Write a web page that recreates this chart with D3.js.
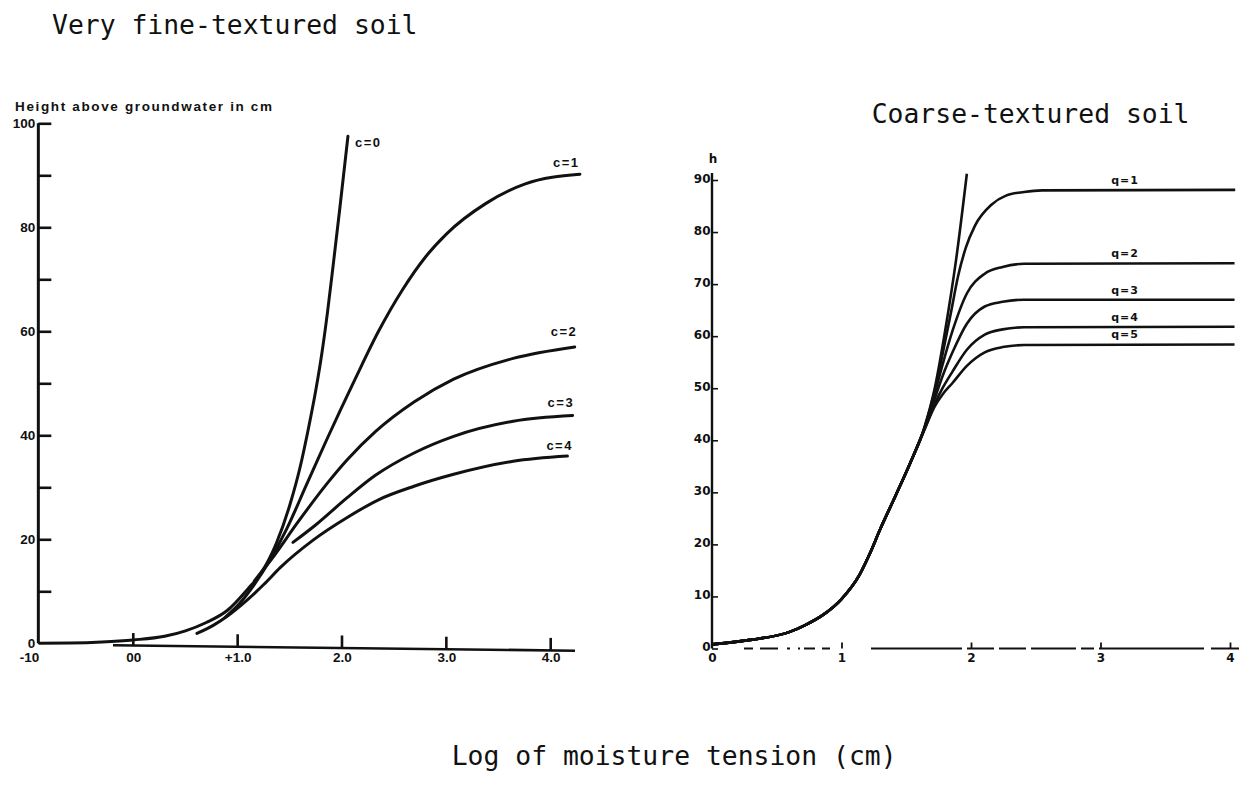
<!DOCTYPE html>
<html>
<head>
<meta charset="utf-8">
<script src="https://cdn.jsdelivr.net/npm/d3@7"></script>
<style>
  body { margin: 0; background: #fff; }
  svg { display: block; }
  .title { font-family: "DejaVu Sans Mono", monospace; font-size: 26.4px; fill: #111; }
</style>
</head>
<body>
<svg id="chart" width="1239" height="785"></svg>
<script>
// Very fine-textured soil : log tension -> height above groundwater (cm)
const fineC0X = [-0.9, -0.6, -0.3, 0, 0.3, 0.5, 0.7, 0.9, 1.1, 1.22, 1.37, 1.5, 1.6, 1.67, 1.75, 1.805, 1.86, 1.92, 1.98, 2.057];
const fineC0H = [0, 0.05, 0.25, 0.65, 1.35, 2.4, 4.0, 6.3, 10.5, 13.4, 19.2, 26.6, 34.0, 40.5, 48.8, 55.5, 63.5, 73.5, 83.8, 97.5];
const fineC1X = [0.88, 1.02, 1.17, 1.31, 1.47, 1.66, 1.85, 2.13, 2.35, 2.58, 2.8, 3.0, 3.38, 3.75, 4.28];
const fineC1H = [5.0, 7.7, 11.6, 16.0, 22.0, 30.5, 39.0, 51.0, 60.0, 68.0, 74.3, 78.7, 84.6, 88.3, 90.2];
const fineC2X = [1.16, 1.34, 1.57, 1.86, 2.05, 2.32, 2.69, 3.07, 3.64, 4.23];
const fineC2H = [12.0, 16.6, 23.1, 30.8, 35.3, 40.7, 46.4, 50.8, 54.8, 57.0];
const fineC3X = [1.53, 1.75, 2.05, 2.32, 2.69, 3.07, 3.64, 4.21];
const fineC3H = [19.4, 22.8, 28.0, 32.3, 36.6, 39.8, 42.7, 43.8];
const fineC4X = [0.61, 0.77, 0.9, 1.09, 1.25, 1.41, 1.72, 2.05, 2.35, 2.69, 3.07, 3.64, 4.16];
const fineC4H = [1.9, 3.5, 5.2, 8.3, 11.3, 14.6, 19.8, 24.2, 27.6, 30.2, 32.5, 35.0, 36.0];
const fineNames = ["c=0", "c=1", "c=2", "c=3", "c=4"];
const fineYTicks = [0, 20, 40, 60, 80, 100];
const fineXTicks = [-1, 0, 1, 2, 3, 4];
const fineXLabels = ["-10", "00", "+1.0", "2.0", "3.0", "4.0"];

// Coarse-textured soil : shared lower part, then one branch per q
const coarseBaseX = [0, 0.31, 0.59, 0.72, 0.86, 1.0, 1.14, 1.22, 1.30, 1.42, 1.53];
const coarseBaseH = [0.8, 1.7, 3.1, 4.5, 6.5, 9.5, 14.2, 18.3, 23.0, 29.5, 35.6];
const coarseSteepX = [1.64, 1.72, 1.80, 1.885, 1.968];
const coarseSteepH = [42.5, 50, 61, 74.7, 91.2];
const coarseQ1X = [1.64, 1.72, 1.78, 1.845, 1.90, 1.96, 2.03, 2.16, 2.27, 2.41, 2.55, 4.04];
const coarseQ1H = [42.3, 49.5, 56.5, 64.5, 71.5, 77.0, 81.2, 85.3, 87.0, 87.7, 88.0, 88.1];
const coarseQX = [1.64, 1.72, 1.78, 1.857, 1.968, 2.106, 2.244, 2.41, 4.035];
const coarseQ2H = [42.3, 49.0, 54.5, 61.0, 68.2, 72.0, 73.3, 73.9, 74.0];
const coarseQ3H = [42.2, 48.0, 52.3, 56.9, 62.4, 65.7, 66.6, 67.0, 67.0];
const coarseQ4H = [42.1, 47.0, 50.0, 53.2, 57.4, 60.3, 61.3, 61.7, 61.8];
const coarseQ5H = [42.0, 46.5, 48.8, 51.0, 54.3, 56.9, 57.9, 58.3, 58.4];
const coarseNames = ["q=1", "q=2", "q=3", "q=4", "q=5"];
const coarseYTicks = [0, 10, 20, 30, 40, 50, 60, 70, 80, 90];
const coarseXTicks = [0, 1, 2, 3, 4];

const ink = "#111";
const svg = d3.select("#chart");

const zip = (xs, hs) => xs.map((x, i) => ({ x: x, h: hs[i] }));

// ---------- left panel ----------
const xF = d3.scaleLinear().domain([0, 4]).range([133.3, 550.7]);
const yF = d3.scaleLinear().domain([0, 100]).range([643.3, 123.3]);
const axisXF = xF(-0.91);

const lineF = d3.line().x(d => xF(d.x)).y(d => yF(d.h)).curve(d3.curveMonotoneX);

svg.append("text").attr("class", "title").attr("x", 52).attr("y", 33.5).text("Very fine-textured soil");

svg.append("text")
    .attr("x", 15).attr("y", 111)
    .attr("font-family", "Liberation Sans, Arial, sans-serif")
    .attr("font-weight", "bold").attr("font-size", 13.5)
    .attr("textLength", 257).attr("lengthAdjust", "spacing")
    .attr("fill", ink)
    .text("Height above groundwater in cm");

// y axis line + ticks to the right
svg.append("line")
    .attr("x1", axisXF).attr("x2", axisXF)
    .attr("y1", yF(0)).attr("y2", yF(100))
    .attr("stroke", ink).attr("stroke-width", 3);

svg.append("g")
    .attr("transform", "translate(" + axisXF + ",0)")
    .call(d3.axisRight(yF).tickValues(d3.range(10, 101, 10)).tickSize(13).tickFormat(""))
    .call(g => g.select(".domain").remove())
    .selectAll("line").attr("stroke", ink).attr("stroke-width", 2.6);

svg.append("g")
    .attr("transform", "translate(" + (axisXF - 1) + ",0)")
    .call(d3.axisLeft(yF).tickValues(fineYTicks).tickSize(0).tickPadding(2))
    .call(g => g.select(".domain").remove())
    .attr("font-family", "Liberation Sans, Arial, sans-serif")
    .attr("font-size", 13.5).attr("font-weight", "bold")
    .selectAll("text").attr("fill", ink);

// lower x baseline (slightly skewed in the scan)
const baseY = px => 645.3 + (px - 113) * 0.0117;
svg.append("line")
    .attr("x1", 113).attr("y1", baseY(113))
    .attr("x2", 575).attr("y2", baseY(575))
    .attr("stroke", ink).attr("stroke-width", 2.6);

svg.selectAll(".ftick").data([0, 1, 2, 3, 4]).enter().append("line")
    .attr("x1", d => xF(d)).attr("x2", d => xF(d))
    .attr("y1", d => baseY(xF(d))).attr("y2", d => baseY(xF(d)) - 12.5)
    .attr("stroke", ink).attr("stroke-width", 2.6);

svg.append("g")
    .attr("transform", "translate(0,646)")
    .call(d3.axisBottom(xF).tickValues(fineXTicks).tickSize(0).tickPadding(6.4)
        .tickFormat((d, i) => fineXLabels[i]))
    .call(g => g.select(".domain").remove())
    .attr("font-family", "Liberation Sans, Arial, sans-serif")
    .attr("font-size", 13.5).attr("font-weight", "bold")
    .selectAll("text").attr("fill", ink);

// curves
const fineSeries = [zip(fineC0X, fineC0H), zip(fineC1X, fineC1H), zip(fineC2X, fineC2H),
                    zip(fineC3X, fineC3H), zip(fineC4X, fineC4H)];
svg.append("g").selectAll("path").data(fineSeries).enter().append("path")
    .attr("d", lineF)
    .attr("fill", "none").attr("stroke", ink).attr("stroke-width", 3)
    .attr("stroke-linecap", "round");

// labels placed relative to each curve's last point
const fineLabelOffsets = [[7, 11], [-27, -7], [-24, -11], [-25, -9], [-21, -6]];
svg.append("g").selectAll("text").data(fineSeries).enter().append("text")
    .attr("x", (d, i) => xF(d[d.length - 1].x) + fineLabelOffsets[i][0])
    .attr("y", (d, i) => yF(d[d.length - 1].h) + fineLabelOffsets[i][1])
    .attr("font-family", "Liberation Sans, Arial, sans-serif")
    .attr("font-weight", "bold").attr("font-size", 13)
    .attr("letter-spacing", 1.5).attr("fill", ink)
    .text((d, i) => fineNames[i]);

// ---------- right panel ----------
const xC = d3.scaleLinear().domain([0, 4]).range([712, 1230]);
const yC = d3.scaleLinear().domain([0, 90]).range([648.5, 180]);

const lineC = d3.line().x(d => xC(d.x)).y(d => yC(d.h)).curve(d3.curveMonotoneX);

svg.append("text").attr("class", "title").attr("x", 871.7).attr("y", 123.3).text("Coarse-textured soil");

svg.append("text")
    .attr("x", xC(0) + 1).attr("y", 163)
    .attr("text-anchor", "middle")
    .attr("font-family", "DejaVu Sans, sans-serif")
    .attr("font-weight", "bold").attr("font-size", 12).attr("fill", ink)
    .text("h");

svg.append("line")
    .attr("x1", xC(0)).attr("x2", xC(0))
    .attr("y1", yC(0)).attr("y2", 173)
    .attr("stroke", ink).attr("stroke-width", 2.4);

svg.append("g")
    .attr("transform", "translate(" + xC(0) + ",0)")
    .call(d3.axisRight(yC).tickValues(coarseYTicks).tickSize(6).tickFormat(""))
    .call(g => g.select(".domain").remove())
    .selectAll("line").attr("stroke", ink).attr("stroke-width", 1.6);

svg.append("g")
    .attr("transform", "translate(" + xC(0) + ",-1.5)")
    .call(d3.axisLeft(yC).tickValues(coarseYTicks).tickSize(0).tickPadding(1.5))
    .call(g => g.select(".domain").remove())
    .attr("font-family", "DejaVu Sans, sans-serif")
    .attr("font-size", 12).attr("font-weight", "bold")
    .selectAll("text").attr("fill", ink);

// broken dash-dot baseline as in the scan
svg.append("line")
    .attr("x1", 744).attr("x2", 830).attr("y1", yC(0)).attr("y2", yC(0))
    .attr("stroke", ink).attr("stroke-width", 1.8)
    .attr("stroke-dasharray", "9 7 18 9 3 8 2 4 11 7 9 40");
svg.append("line")
    .attr("x1", 871).attr("x2", 1239).attr("y1", yC(0)).attr("y2", yC(0))
    .attr("stroke", ink).attr("stroke-width", 1.8)
    .attr("stroke-dasharray", "91 5 27 5 27 5 45 5 13 5 105 7 40");

svg.append("g")
    .attr("transform", "translate(0," + yC(0) + ")")
    .call(d3.axisTop(xC).tickValues([1, 2, 3, 4]).tickSize(6).tickFormat(""))
    .call(g => g.select(".domain").remove())
    .selectAll("line").attr("stroke", ink).attr("stroke-width", 1.8);

svg.append("g")
    .attr("transform", "translate(0," + (yC(0) + 1) + ")")
    .call(d3.axisBottom(xC).tickValues(coarseXTicks).tickSize(0).tickPadding(3.5)
        .tickFormat(d3.format("d")))
    .call(g => g.select(".domain").remove())
    .attr("font-family", "DejaVu Sans, sans-serif")
    .attr("font-size", 12).attr("font-weight", "bold")
    .selectAll("text").attr("fill", ink);

const coarseBase = zip(coarseBaseX, coarseBaseH);
const coarseSteep = coarseBase.concat(zip(coarseSteepX, coarseSteepH));
const coarseSeries = [
    coarseBase.concat(zip(coarseQ1X, coarseQ1H)),
    coarseBase.concat(zip(coarseQX, coarseQ2H)),
    coarseBase.concat(zip(coarseQX, coarseQ3H)),
    coarseBase.concat(zip(coarseQX, coarseQ4H)),
    coarseBase.concat(zip(coarseQX, coarseQ5H))
];

svg.append("g").selectAll("path").data([coarseSteep].concat(coarseSeries)).enter().append("path")
    .attr("d", lineC)
    .attr("fill", "none").attr("stroke", ink).attr("stroke-width", 2.6);

const qLabelAt = 3.19;
svg.append("g").selectAll("text").data(coarseSeries).enter().append("text")
    .attr("x", xC(qLabelAt))
    .attr("y", d => yC(d[d.length - 1].h) - 6)
    .attr("text-anchor", "middle")
    .attr("font-family", "DejaVu Sans, sans-serif")
    .attr("font-weight", "bold").attr("font-size", 11)
    .attr("letter-spacing", 1).attr("fill", ink)
    .text((d, i) => coarseNames[i]);

// shared x caption
svg.append("text").attr("class", "title").attr("x", 451.7).attr("y", 765).text("Log of moisture tension (cm)");
</script>
</body>
</html>
